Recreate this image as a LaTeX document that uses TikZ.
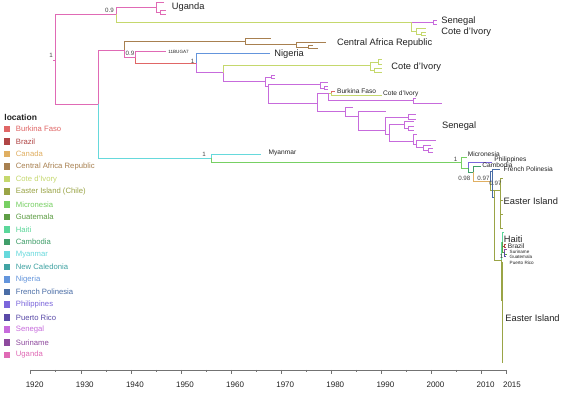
\documentclass[tikz,border=0pt]{standalone}
\usepackage{fontspec}
\setmainfont{Liberation Sans}
\definecolor{bf}{HTML}{E06666}
\definecolor{br}{HTML}{B04545}
\definecolor{ca}{HTML}{E0AF62}
\definecolor{car}{HTML}{A88050}
\definecolor{ci}{HTML}{C5D86D}
\definecolor{ei}{HTML}{9AA446}
\definecolor{mi}{HTML}{77D063}
\definecolor{gu}{HTML}{5E9E45}
\definecolor{ha}{HTML}{5BD79A}
\definecolor{cb}{HTML}{409E6A}
\definecolor{my}{HTML}{66D9DC}
\definecolor{nc}{HTML}{40A3A3}
\definecolor{ng}{HTML}{6495DC}
\definecolor{fp}{HTML}{4A6DA6}
\definecolor{ph}{HTML}{7B66DC}
\definecolor{pr}{HTML}{5A4AA8}
\definecolor{sn}{HTML}{C76BDC}
\definecolor{su}{HTML}{8E4A9E}
\definecolor{ug}{HTML}{E06AB5}
\definecolor{txt}{HTML}{222222}
\newcommand\phy[5]{\draw[#1] (#2,#3) |- (#4,#5);}
\newcommand\bigf{\fontsize{9.3}{10}\selectfont}
\newcommand\smallf{\fontsize{6.6}{7}\selectfont}
\newcommand\tinyf{\fontsize{4.6}{5}\selectfont}
\newcommand\nodef{\fontsize{6.2}{7}\selectfont}
\newcommand\legf{\fontsize{7.7}{8}\selectfont}
\newcommand\legitem[4]{%
  \fill[#1] (4,#2-3.3) rectangle (10,#2+3.3);
  \node[anchor=west, inner sep=0pt, text=#1, font=\legf] (#3) at (15.5,#2) {#4};}
\begin{document}
\begin{tikzpicture}[x=1pt,y=-1pt, line width=0.8pt,
  tl/.style={anchor=west, inner sep=0pt, text=txt},
  nl/.style={inner sep=0pt, text=txt!85, font=\nodef},
  axis/.style={draw=black!55, line width=0.6pt},
  axlab/.style={inner sep=0pt, text=txt, font=\fontsize{8}{9}\selectfont}]
\fill[white] (0,0) rectangle (566,393);
\useasboundingbox (0,0) rectangle (566,393);

% ---------- root ----------
\draw[ug] (53,60) -- (55,60);
\phy{ug}{55}{60}{116.7}{14.3}
\phy{ug}{55}{60}{98.3}{104.3}
% Uganda / Cote d'Ivory
\phy{ug}{116.7}{14.3}{156.7}{7}
\phy{ci}{116.7}{14.3}{411.7}{22.3}
\phy{ug}{156.7}{7}{164}{2.5}
\phy{ug}{156.7}{7}{160}{12}
\phy{ug}{160}{12}{165.6}{10}
\phy{ug}{160}{12}{165.6}{14}
\phy{sn}{411.7}{22.3}{433.3}{22.3}
\phy{ci}{411.7}{22.3}{416.7}{31}
\phy{sn}{433.3}{22.3}{437}{20.3}
\phy{sn}{433.3}{22.3}{437}{24.5}
\phy{ci}{416.7}{31}{426}{28.5}
\phy{ci}{416.7}{31}{421}{34}
\phy{ci}{421}{34}{426}{32.5}
\phy{ci}{421}{34}{426}{35.8}
% ---------- lower root child ----------
\phy{ug}{98.3}{104.3}{124}{50}
\phy{my}{98.3}{104.3}{211.7}{158}
\phy{car}{124}{50}{245.7}{41.7}
\phy{ug}{124}{50}{135}{57.7}
\phy{car}{245.7}{41.7}{270.7}{38.3}
\phy{car}{245.7}{41.7}{296.7}{44.3}
\phy{car}{296.7}{44.3}{325.7}{42}
\phy{car}{296.7}{44.3}{308.3}{47}
\phy{car}{308.3}{47}{313.3}{45.5}
\phy{car}{308.3}{47}{318}{48.5}
\phy{ug}{135}{57.7}{165.7}{51.7}
\phy{bf}{135}{57.7}{196.7}{63.3}
\phy{ng}{196.7}{63.3}{270}{53.3}
\phy{sn}{196.7}{63.3}{223.3}{72.7}
\phy{ci}{223.3}{72.7}{370}{65}
\phy{sn}{223.3}{72.7}{265.7}{81.7}
\phy{ci}{370}{65}{378}{62}
\phy{ci}{370}{65}{374}{70}
\phy{ci}{378}{62}{381.7}{59.8}
\phy{ci}{378}{62}{381.7}{64.2}
\phy{ci}{374}{70}{381.7}{68}
\phy{ci}{374}{70}{381.7}{72.3}
\phy{sn}{265.7}{81.7}{271}{77}
\phy{sn}{265.7}{81.7}{268.3}{86}
\phy{sn}{271}{77}{275}{75.5}
\phy{sn}{271}{77}{275}{78.5}
\phy{sn}{268.3}{86}{320.7}{84.3}
\phy{sn}{268.3}{86}{317.3}{103.3}
\phy{sn}{320.7}{84.3}{328}{82.3}
\phy{sn}{320.7}{84.3}{324}{88}
\phy{sn}{324}{88}{328}{86.5}
\phy{sn}{324}{88}{328}{89.5}
\phy{sn}{317.3}{103.3}{328.3}{93.3}
\phy{sn}{317.3}{103.3}{345}{111.7}
\phy{ci}{328.3}{93.3}{331}{93}
\phy{bf}{331}{93}{335}{91.2}
\phy{ci}{331}{93}{381.7}{95.5}
\phy{sn}{328.3}{93.3}{413.3}{100}
\phy{sn}{413.3}{100}{416}{98.5}
\phy{sn}{413.3}{100}{441.7}{103.3}
\phy{sn}{345}{111.7}{353.3}{107.7}
\phy{sn}{345}{111.7}{358.3}{116}
\phy{sn}{358.3}{116}{385.7}{111}
\phy{sn}{358.3}{116}{385}{130}
\phy{sn}{385}{130}{408.3}{117}
\phy{sn}{385}{130}{389.3}{134}
\phy{sn}{408.3}{117}{416}{114.3}
\phy{sn}{408.3}{117}{416}{119}
\phy{sn}{389.3}{134}{404}{124}
\phy{sn}{389.3}{134}{413.3}{141}
\phy{sn}{404}{124}{414}{121}
\phy{sn}{404}{124}{408}{128}
\phy{sn}{408}{128}{414}{126.3}
\phy{sn}{408}{128}{414}{130}
\phy{sn}{413.3}{141}{416.5}{134.5}
\phy{sn}{413.3}{141}{416.7}{144}
\phy{sn}{416.7}{144}{436}{140.5}
\phy{sn}{416.7}{144}{423.3}{147.5}
\phy{sn}{423.3}{147.5}{431}{145}
\phy{sn}{423.3}{147.5}{428.3}{150}
\phy{sn}{428.3}{150}{433}{148.3}
\phy{sn}{428.3}{150}{433}{152.5}
% ---------- Myanmar / Pacific ----------
\phy{my}{211.7}{158}{261}{154.3}
\phy{mi}{211.7}{158}{461.7}{162.3}
\phy{mi}{461.7}{162.3}{466.7}{157.7}
\phy{mi}{461.7}{162.3}{468.3}{168}
\phy{ph}{468.3}{168}{491.7}{162}
\phy{cb}{468.3}{168}{473.3}{172}
\phy{cb}{473.3}{172}{481}{166.5}
\phy{ca}{473.3}{172}{490.7}{181.7}
\phy{fp}{490.7}{181.7}{492.3}{171}
\phy{ei}{490.7}{181.7}{494.3}{190}
\draw[fp, line width=1.6pt] (492.3,169) -- (492.3,197);
\phy{fp}{492.3}{171}{500}{169}
\phy{fp}{492.3}{171}{493.8}{197}
\phy{ei}{494.3}{190}{500}{190}
\phy{ei}{494.3}{190}{501}{260}
\phy{ei}{500}{190}{502.5}{178}
\phy{ei}{500}{190}{502.5}{200}
\phy{ei}{500}{190}{502.5}{214}
\phy{ei}{500}{190}{502.5}{228}
\phy{ha}{501}{260}{502}{242}
\phy{ei}{501}{260}{502}{300}
\phy{ha}{502}{242}{504}{232}
\phy{br}{502}{242}{504}{246}
\phy{gu}{502}{242}{504.3}{252}
\phy{br}{504}{246}{506}{244.5}
\phy{br}{504}{246}{506}{247.5}
\phy{su}{504.3}{252}{507}{249.5}
\phy{gu}{504.3}{252}{507}{254}
\phy{pr}{504.3}{252}{506}{256}
\phy{ei}{502}{300}{503}{262}
\phy{ei}{502}{300}{503}{362}
\draw[ei, line width=1.8pt] (501.8,262) -- (501.8,287);

% ---------- node support labels ----------
\node[nl] (s1) at (109.5,10.5) {0.9};
\node[nl] (s2) at (51,55.5) {1};
\node[nl] (s3) at (130,53.3) {0.9};
\node[nl] (s4) at (192.7,61) {1};
\node[nl] (s5) at (204,154.3) {1};
\node[nl] (s6) at (455.7,159.3) {1};
\node[nl] (s7) at (464.3,178.3) {0.98};
\node[nl] (s8) at (483.5,178.3) {0.97};
\node[nl] (s9) at (495.5,183.5) {0.97};
\node[nl] (s10) at (501.7,256) {1};

% ---------- tip labels ----------
\node[tl, font=\bigf] (tUg) at (171.5,7) {Uganda};
\node[tl, font=\tinyf] (tBu) at (168,51.7) {11BUGA7};
\node[tl, font=\bigf] (tSe1) at (441,21.5) {Senegal};
\node[tl, font=\bigf] (tCi1) at (441,32.5) {Cote d’Ivory};
\node[tl, font=\bigf] (tCar) at (336.7,43.5) {Central Africa Republic};
\node[tl, font=\bigf] (tNg) at (274,54.3) {Nigeria};
\node[tl, font=\bigf] (tCi2) at (391,67) {Cote d’Ivory};
\node[tl, font=\smallf] (tBf) at (336.7,91.3) {Burkina Faso};
\node[tl, font=\smallf] (tCi3) at (382.7,94.2) {Cote d’Ivory};
\node[tl, font=\bigf] (tSe2) at (441.7,126) {Senegal};
\node[tl, font=\smallf] (tMy) at (268.3,152.5) {Myanmar};
\node[tl, font=\smallf] (tMi) at (467.5,154.5) {Micronesia};
\node[tl, font=\smallf] (tPh) at (494,159.5) {Philippines};
\node[tl, font=\smallf] (tCb) at (482,165.3) {Cambodia};
\node[tl, font=\smallf] (tFp) at (503.3,169.5) {French Polinesia};
\node[tl, font=\bigf] (tEi1) at (503.3,200.7) {Easter Island};
\node[tl, font=\bigf] (tHa) at (503.5,239) {Haiti};
\node[tl, font=\smallf] (tBr) at (507.5,246) {Brazil};
\node[tl, font=\tinyf] (tSu) at (509.3,251.5) {Suriname};
\node[tl, font=\tinyf] (tGu) at (509.3,257) {Guatemala};
\node[tl, font=\tinyf] (tPr) at (509.3,262.8) {Puerto Rico};
\node[tl, font=\bigf] (tEi2) at (505,317.7) {Easter Island};

% ---------- legend ----------
\node[anchor=west, inner sep=0pt, text=txt, font=\fontsize{8.5}{9}\selectfont\bfseries] (legt) at (4,117) {location};
\legitem{bf}{129}{l1}{Burkina Faso}
\legitem{br}{141.6}{l2}{Brazil}
\legitem{ca}{154.1}{l3}{Canada}
\legitem{car}{166.7}{l4}{Central Africa Republic}
\legitem{ci}{179.2}{l5}{Cote d’Ivory}
\legitem{ei}{191.8}{l6}{Easter Island (Chile)}
\legitem{mi}{204.3}{l7}{Micronesia}
\legitem{gu}{216.9}{l8}{Guatemala}
\legitem{ha}{229.4}{l9}{Haiti}
\legitem{cb}{242}{l10}{Cambodia}
\legitem{my}{254.5}{l11}{Myanmar}
\legitem{nc}{267.1}{l12}{New Caledonia}
\legitem{ng}{279.6}{l13}{Nigeria}
\legitem{fp}{292.2}{l14}{French Polinesia}
\legitem{ph}{304.7}{l15}{Philippines}
\legitem{pr}{317.3}{l16}{Puerto Rico}
\legitem{sn}{329.8}{l17}{Senegal}
\legitem{su}{342.4}{l18}{Suriname}
\legitem{ug}{354.9}{l19}{Uganda}

% ---------- axis ----------
\draw[axis] (30.7,370) -- (506.6,370);
\foreach \i in {0,...,9}{
  \pgfmathsetmacro\xx{30.7+50.1*\i}
  \pgfmathtruncatemacro\yr{1920+10*\i}
  \draw[axis] (\xx,370) -- (\xx,374);
  \node[axlab] (ax\i) at (\xx+4,385) {\yr};
}
\foreach \i in {0,...,8}{
  \draw[axis] (30.7+25.05+50.1*\i,370) -- ++(0,2.2);
}
\draw[axis] (506.6,370) -- (506.6,374);
\node[axlab] (ax10) at (512,385) {2015};
\end{tikzpicture}
\end{document}
